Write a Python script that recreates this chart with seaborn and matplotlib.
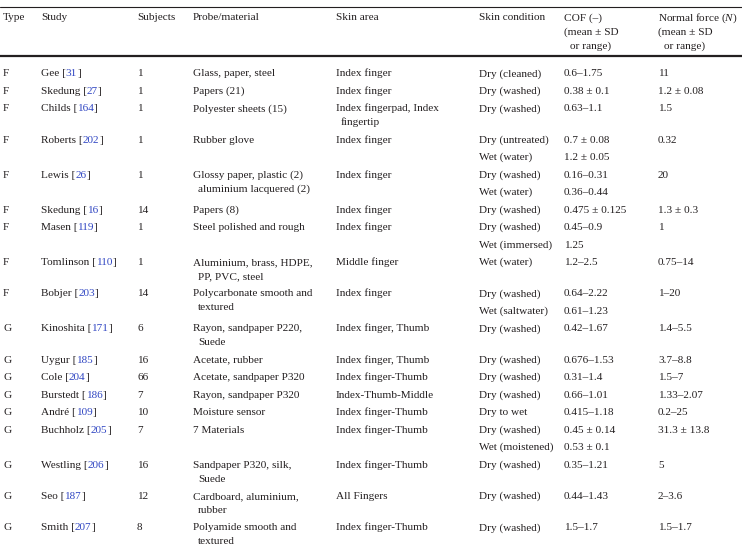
import matplotlib
matplotlib.use('Agg')
import matplotlib.pyplot as plt
import seaborn as sns

# Table content
types = ['F', 'F', 'F', 'F', 'F', 'F', 'F', 'F', 'F',
         'G', 'G', 'G', 'G', 'G', 'G', 'G', 'G', 'G']
authors = ['Gee', 'Skedung', 'Childs', 'Roberts', 'Lewis', 'Skedung', 'Masen',
           'Tomlinson', 'Bobjer', 'Kinoshita', 'Uygur', 'Cole', 'Burstedt',
           'André', 'Buchholz', 'Westling', 'Seo', 'Smith']
refs = ['31', '27', '164', '202', '26', '16', '119', '110', '203',
        '171', '185', '204', '186', '109', '205', '206', '187', '207']
subjects = ['1', '1', '1', '1', '1', '14', '1', '1', '14',
            '6', '16', '66', '7', '10', '7', '16', '12', '8']
probes = ['Glass, paper, steel', 'Papers (21)', 'Polyester sheets (15)',
          'Rubber glove', 'Glossy paper, plastic (2)\naluminium lacquered (2)',
          'Papers (8)', 'Steel polished and rough',
          'Aluminium, brass, HDPE,\nPP, PVC, steel',
          'Polycarbonate smooth and\ntextured',
          'Rayon, sandpaper P220,\nSuede', 'Acetate, rubber',
          'Acetate, sandpaper P320', 'Rayon, sandpaper P320',
          'Moisture sensor', '7 Materials', 'Sandpaper P320, silk,\nSuede',
          'Cardboard, aluminium,\nrubber', 'Polyamide smooth and\ntextured']
skin_areas = ['Index finger', 'Index finger', 'Index fingerpad, Index\nfingertip',
              'Index finger', 'Index finger', 'Index finger', 'Index finger',
              'Middle finger', 'Index finger', 'Index finger, Thumb',
              'Index finger, Thumb', 'Index finger-Thumb', 'Index-Thumb-Middle',
              'Index finger-Thumb', 'Index finger-Thumb', 'Index finger-Thumb',
              'All Fingers', 'Index finger-Thumb']
conditions = [['Dry (cleaned)'], ['Dry (washed)'], ['Dry (washed)'],
              ['Dry (untreated)', 'Wet (water)'], ['Dry (washed)', 'Wet (water)'],
              ['Dry (washed)'], ['Dry (washed)', 'Wet (immersed)'],
              ['Wet (water)'], ['Dry (washed)', 'Wet (saltwater)'],
              ['Dry (washed)'], ['Dry (washed)'], ['Dry (washed)'],
              ['Dry (washed)'], ['Dry to wet'],
              ['Dry (washed)', 'Wet (moistened)'], ['Dry (washed)'],
              ['Dry (washed)'], ['Dry (washed)']]
cof_values = [['0.6–1.75'], ['0.38 ± 0.1'], ['0.63–1.1'],
              ['0.7 ± 0.08', '1.2 ± 0.05'], ['0.16–0.31', '0.36–0.44'],
              ['0.475 ± 0.125'], ['0.45–0.9', '1.25'], ['1.2–2.5'],
              ['0.64–2.22', '0.61–1.23'], ['0.42–1.67'], ['0.676–1.53'],
              ['0.31–1.4'], ['0.66–1.01'], ['0.415–1.18'],
              ['0.45 ± 0.14', '0.53 ± 0.1'], ['0.35–1.21'], ['0.44–1.43'],
              ['1.5–1.7']]
normal_forces = [['11'], ['1.2 ± 0.08'], ['1.5'], ['0.32', ''], ['20', ''],
                 ['1.3 ± 0.3'], ['1', ''], ['0.75–14'], ['1–20', ''],
                 ['1.4–5.5'], ['3.7–8.8'], ['1.5–7'], ['1.33–2.07'],
                 ['0.2–25'], ['31.3 ± 13.8', ''], ['5'], ['2–3.6'], ['1.5–1.7']]

headers = ['Type', 'Study', 'Subjects', 'Probe/material', 'Skin area',
           'Skin condition', 'COF (–)\n(mean ± SD\nor range)',
           'Normal force ($N$)\n(mean ± SD\nor range)']

sns.set_theme(style='white')
plt.rcParams['font.family'] = ['Liberation Serif', 'DejaVu Serif']
plt.rcParams['mathtext.fontset'] = 'custom'
plt.rcParams['mathtext.rm'] = 'Liberation Serif'
plt.rcParams['mathtext.it'] = 'Liberation Serif:italic'

fig = plt.figure(figsize=(7.42, 5.51), dpi=100)
ax = fig.add_axes([0, 0, 1, 1])
ax.set_xlim(0, 742)
ax.set_ylim(551, 0)
ax.axis('off')

ink = '#231f20'
link = '#2f45c2'
fs = 8.1
col_x = [3, 41, 137, 193, 336, 479, 564, 658]
line_h = 13.8
row_h = 17.5
indent = 5
base = 3.3  # offset from visual centre to baseline


def put(x, y, s, color=ink):
    return ax.text(x, y + base, s, fontsize=fs, color=color, ha='left',
                   va='baseline')


def cell(x, y, s):
    lines = s.split('\n')
    for k, line in enumerate(lines):
        put(x + (indent if k else 0), y + k * line_h, line)
    return len(lines)


# rules
ax.axhline(7, color=ink, lw=0.8)
ax.axhline(56, color=ink, lw=1.6)

# header
for x, h in zip(col_x, headers):
    for k, line in enumerate(h.split('\n')):
        put(x + (6 if k == 2 else 0), 17 + k * 14.2, line)

y = 73
for i in range(len(types)):
    put(col_x[0], y, types[i])
    # study with blue reference number, chained text pieces
    t = put(col_x[1], y, authors[i] + ' [')
    for s, c in [(refs[i], link), (']', ink)]:
        t = ax.annotate(s, xy=(1, 0), xycoords=t, va='bottom', ha='left',
                        fontsize=fs, color=c)
    put(col_x[2], y, subjects[i])
    n1 = cell(col_x[3], y, probes[i])
    n2 = cell(col_x[4], y, skin_areas[i])
    for j, (cond, cof, fn) in enumerate(zip(conditions[i], cof_values[i],
                                            normal_forces[i])):
        put(col_x[5], y + j * row_h, cond)
        put(col_x[6], y + j * row_h, cof)
        put(col_x[7], y + j * row_h, fn)
    nl = max(n1, n2)
    y += max((nl - 1) * line_h + row_h, len(conditions[i]) * row_h)

fig.savefig('out.png', dpi=100)
